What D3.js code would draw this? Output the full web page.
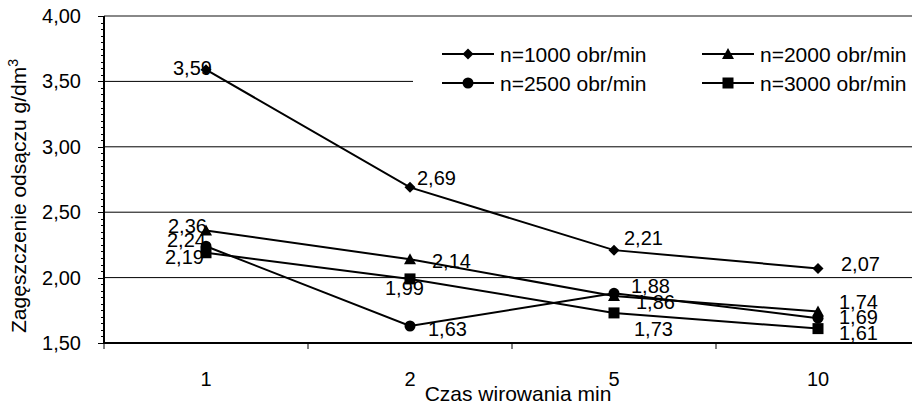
<!doctype html>
<html>
<head>
<meta charset="utf-8">
<script src="https://cdn.jsdelivr.net/npm/d3@7"></script>
<style>
  body { margin: 0; background: #fff; }
  svg { display: block; font-family: "Liberation Sans", Arial, sans-serif; }
</style>
</head>
<body>
<svg id="chart" width="912" height="403"></svg>
<script>
// categories (x) and series values
const times = ["1", "2", "5", "10"];
const seriesNames = ["n=1000 obr/min", "n=2000 obr/min", "n=2500 obr/min", "n=3000 obr/min"];
const n1000 = [3.59, 2.69, 2.21, 2.07];
const n2000 = [2.36, 2.14, 1.86, 1.74];
const n2500 = [2.24, 1.63, 1.88, 1.69];
const n3000 = [2.19, 1.99, 1.73, 1.61];
const yTicks = [1.5, 2.0, 2.5, 3.0, 3.5, 4.0];

const series = [
  {name: seriesNames[0], values: n1000, marker: "diamond"},
  {name: seriesNames[1], values: n2000, marker: "triangle"},
  {name: seriesNames[2], values: n2500, marker: "circle"},
  {name: seriesNames[3], values: n3000, marker: "square"}
];

// where each data label sits relative to its point [dx, dy of baseline]
const labelOffsets = [
  [[-33, 5.5], [7, -2], [10, -5], [23, 3]],
  [[-38, 2.5], [22, 9], [22, 13], [21, -3]],
  [[-39, 1], [18, 10], [17, 0], [21, 6]],
  [[-41, 11], [-25, 16], [20, 23], [21, 11]]
];

const svg = d3.select("#chart");
const margin = {left: 104, top: 16, right: 920, bottom: 343};
const fontSize = 20;
const titleSize = 21;

const x = d3.scaleBand().domain(times).range([margin.left, margin.right]);
const y = d3.scaleLinear().domain([1.5, 4]).range([margin.bottom, margin.top]);
const cx = (d) => x(d) + x.bandwidth() / 2;

const fmt = d3.formatLocale({decimal: ",", thousands: " ", grouping: [3], currency: ["", ""]}).format(".2f");

// gridlines
svg.append("g")
  .selectAll("line")
  .data(yTicks.filter((t) => t > 1.5 && t < 4))
  .join("line")
    .attr("x1", margin.left).attr("x2", margin.right)
    .attr("y1", (d) => y(d)).attr("y2", (d) => y(d))
    .attr("stroke", "#000").attr("stroke-width", 1);

// top border of plot area
svg.append("line")
  .attr("x1", margin.left).attr("x2", margin.right)
  .attr("y1", y(4)).attr("y2", y(4))
  .attr("stroke", "#888").attr("stroke-width", 2);

// y axis with minor ticks
const minor = d3.range(1.5, 4.0001, 0.05);
svg.append("g")
  .selectAll("line")
  .data(minor)
  .join("line")
    .attr("x1", (d, i) => i % 10 === 0 ? margin.left - 6 : margin.left - 3)
    .attr("x2", margin.left)
    .attr("y1", (d) => Math.round(y(d)) + 0.5).attr("y2", (d) => Math.round(y(d)) + 0.5)
    .attr("stroke", "#000").attr("stroke-width", 1);
svg.append("line")
  .attr("x1", margin.left).attr("x2", margin.left)
  .attr("y1", margin.top).attr("y2", margin.bottom + 1)
  .attr("stroke", "#000").attr("stroke-width", 2);
svg.append("g")
  .selectAll("text")
  .data(yTicks)
  .join("text")
    .attr("x", 81).attr("y", (d) => y(d) + 7)
    .attr("text-anchor", "end")
    .attr("font-size", fontSize)
    .text(fmt);

// x axis
svg.append("line")
  .attr("x1", margin.left - 1).attr("x2", margin.right)
  .attr("y1", margin.bottom).attr("y2", margin.bottom)
  .attr("stroke", "#000").attr("stroke-width", 2);
svg.append("g")
  .selectAll("line")
  .data(times.map((t) => x(t)).concat([margin.right]))
  .join("line")
    .attr("x1", (d) => d).attr("x2", (d) => d)
    .attr("y1", margin.bottom).attr("y2", margin.bottom + 6)
    .attr("stroke", "#000").attr("stroke-width", 1);
svg.append("g")
  .selectAll("text")
  .data(times)
  .join("text")
    .attr("x", cx).attr("y", 386)
    .attr("text-anchor", "middle")
    .attr("font-size", fontSize)
    .text((d) => d);

// axis titles
svg.append("text")
  .attr("x", 518).attr("y", 401)
  .attr("text-anchor", "middle")
  .attr("font-size", titleSize)
  .text("Czas wirowania min");
const yTitle = svg.append("text")
  .attr("transform", "translate(26,196) rotate(-90)")
  .attr("text-anchor", "middle")
  .attr("font-size", titleSize)
  .text("Zagęszczenie odsączu g/dm");
yTitle.append("tspan").attr("dy", -8).attr("font-size", 14).text("3");

// marker shapes
function marker(g, type, px, py) {
  if (type === "diamond") {
    g.append("path").attr("d", `M${px},${py - 5.5}L${px + 5.5},${py}L${px},${py + 5.5}L${px - 5.5},${py}Z`);
  } else if (type === "triangle") {
    g.append("path").attr("d", `M${px},${py - 6}L${px + 6},${py + 5}L${px - 6},${py + 5}Z`);
  } else if (type === "circle") {
    g.append("circle").attr("cx", px).attr("cy", py).attr("r", 5.5);
  } else {
    g.append("rect").attr("x", px - 5.5).attr("y", py - 5.5).attr("width", 11).attr("height", 11);
  }
}

// legend (white box hides the gridline behind it)
svg.append("rect")
  .attr("x", 413).attr("y", 32).attr("width", 520).attr("height", 78)
  .attr("fill", "#fff");
const legendPos = [[442, 54], [702, 54], [442, 83], [702, 83]];
series.forEach((s, i) => {
  const [lx, ly] = legendPos[i];
  const g = svg.append("g").attr("fill", "#000");
  g.append("line")
    .attr("x1", lx).attr("x2", lx + 52)
    .attr("y1", ly).attr("y2", ly)
    .attr("stroke", "#000").attr("stroke-width", 2);
  marker(g, s.marker, lx + 26, ly);
  g.append("text")
    .attr("x", lx + 58).attr("y", ly + 7.5)
    .attr("font-size", titleSize)
    .text(s.name);
});

// series
const line = d3.line().x((d, i) => cx(times[i])).y((d) => y(d));
series.forEach((s, si) => {
  const g = svg.append("g").attr("fill", "#000");
  g.append("path")
    .attr("d", line(s.values))
    .attr("fill", "none")
    .attr("stroke", "#000").attr("stroke-width", 2);
  s.values.forEach((v, i) => marker(g, s.marker, cx(times[i]), y(v)));
  s.values.forEach((v, i) => {
    const [dx, dy] = labelOffsets[si][i];
    g.append("text")
      .attr("x", cx(times[i]) + dx).attr("y", y(v) + dy)
      .attr("font-size", fontSize)
      .text(fmt(v));
  });
});
</script>
</body>
</html>
